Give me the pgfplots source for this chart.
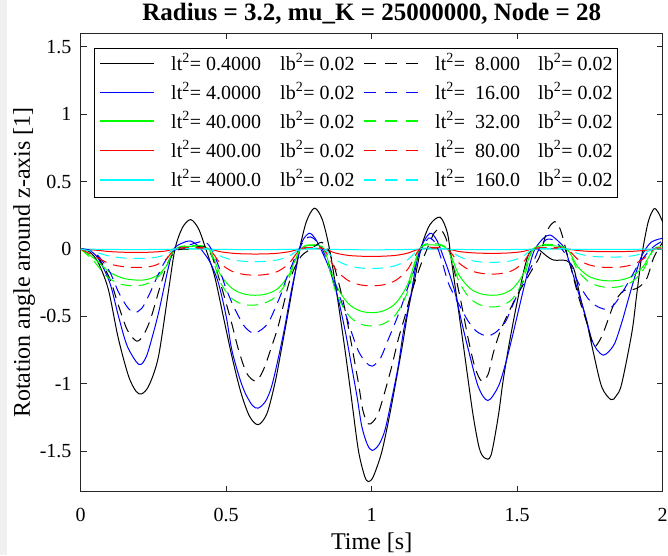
\documentclass[border=0pt]{standalone}
\usepackage{pgfplots}
\pgfplotsset{compat=1.18}
\usepackage{fontspec}
\setmainfont{Liberation Serif}
\definecolor{matK}{rgb}{0,0,0}
\definecolor{matB}{rgb}{0,0,1}
\definecolor{matG}{rgb}{0,1,0}
\definecolor{matR}{rgb}{1,0,0}
\definecolor{matC}{rgb}{0,1,1}
\pgfplotsset{
  cv/.style={line width=1pt, smooth, tension=0.5},
  dsh/.style={dash pattern=on 11pt off 7pt},
}
\tikzset{legdsh/.style={dash pattern=on 12pt off 9pt}}
% legend row: #1 line y (pt), #2 colour, #3 left lt value, #4 right lt value, #5 line width
\newcommand{\legrow}[5]{%
  \draw[#2, line width=#5] (19.5pt,#1pt) -- (73.5pt,#1pt);
  \node[anchor=base west, inner sep=0pt, font=\fontsize{20}{24}\selectfont] at ([yshift=-7pt]90.3pt,#1pt) {lt\textsuperscript{2}= #3};
  \node[anchor=base west, inner sep=0pt, font=\fontsize{20}{24}\selectfont] at ([yshift=-7pt]199.3pt,#1pt) {lb\textsuperscript{2}= 0.02};
  \draw[#2, line width=#5, legdsh] (283.3pt,#1pt) -- (337.3pt,#1pt);
  \node[anchor=base west, inner sep=0pt, font=\fontsize{20}{24}\selectfont] at ([yshift=-7pt]354.3pt,#1pt) {lt\textsuperscript{2}=\ \ #4};
  \node[anchor=base west, inner sep=0pt, font=\fontsize{20}{24}\selectfont] at ([yshift=-7pt]457.3pt,#1pt) {lb\textsuperscript{2}= 0.02};
}
\begin{document}
\begin{tikzpicture}
\useasboundingbox (-80.7pt,-63.3pt) rectangle (587.3pt,491.7pt);
\fill[gray!12] (-80.7pt,-63.3pt) rectangle (-73.7pt,491.7pt);
\begin{axis}[
  at={(0pt,0pt)}, anchor=south west,
  scale only axis, width=582pt, height=458.4pt,
  xmin=0, xmax=2, ymin=-1.8, ymax=1.6,
  xtick={0,0.5,1,1.5,2},
  ytick={-1.5,-1,-0.5,0,0.5,1,1.5},
  tick align=inside, major tick length=6pt,
  axis line style={line width=0.8pt, black!85},
  every tick/.style={line width=0.8pt, black!85},
  /pgf/number format/assume math mode=true,
  ticklabel style={font=\fontsize{20}{24}\selectfont},
  xticklabel style={anchor=base, inner sep=0pt, yshift=-30pt},
  yticklabel style={anchor=east, inner sep=0pt, xshift=-9pt},
  xlabel={Time [s]},
  ylabel={Rotation angle around z-axis [1]},
  xlabel style={at={(axis description cs:0.5,0)}, anchor=base, inner sep=0pt, yshift=-57.6pt, font=\fontsize{24}{28}\selectfont},
  ylabel style={at={(axis description cs:0,0.5)}, anchor=base, inner sep=0pt, yshift=50.7pt, font=\fontsize{24}{28}\selectfont},
  title={Radius = 3.2, mu\_K = 25000000, Node = 28},
  title style={at={(axis description cs:0.5,1)}, anchor=base, inner sep=0pt, yshift=7pt, font=\bfseries\fontsize{25}{29}\selectfont},
]
% lt^2 = 0.4 (black solid)
\addplot[cv, matK] coordinates {
(0,0) (0.03,-0.02) (0.06,-0.1) (0.095,-0.3) (0.129,-0.66) (0.164,-0.94) (0.19,-1.055) (0.21,-1.074) (0.235,-1.01) (0.267,-0.8) (0.301,-0.32) (0.324,0) (0.35,0.16) (0.378,0.218) (0.405,0.15) (0.43,0.0) (0.46,-0.2) (0.49,-0.5) (0.52,-0.8) (0.55,-1.06) (0.58,-1.24) (0.61,-1.303) (0.64,-1.22) (0.668,-0.99) (0.69,-0.74) (0.713,-0.47) (0.735,-0.2) (0.75,-0.02) (0.775,0.2) (0.803,0.303) (0.83,0.22) (0.855,0.0) (0.88,-0.33) (0.908,-0.745) (0.93,-1.1) (0.954,-1.49) (0.975,-1.68) (0.988,-1.725) (1.005,-1.69) (1.034,-1.51) (1.06,-1.25) (1.08,-1.02) (1.105,-0.72) (1.126,-0.447) (1.15,-0.2) (1.172,0.025) (1.2,0.18) (1.235,0.236) (1.26,0.12) (1.275,-0.1) (1.309,-0.62) (1.33,-0.95) (1.349,-1.24) (1.37,-1.48) (1.389,-1.551) (1.41,-1.53) (1.435,-1.24) (1.45,-1.0) (1.469,-0.745) (1.49,-0.5) (1.504,-0.35) (1.527,-0.124) (1.544,-0.02) (1.57,0.0) (1.6,-0.05) (1.625,-0.082) (1.67,-0.087) (1.695,-0.15) (1.716,-0.35) (1.74,-0.55) (1.76,-0.75) (1.79,-1.02) (1.822,-1.117) (1.84,-1.09) (1.859,-1.0) (1.894,-0.62) (1.91,-0.35) (1.928,-0.05) (1.95,0.2) (1.97,0.298) (1.985,0.27) (2.0,0.2)
};
% lt^2 = 4 (blue solid)
\addplot[cv, matB] coordinates {
(0,0) (0.03,-0.01) (0.06,-0.07) (0.1,-0.25) (0.13,-0.5) (0.16,-0.72) (0.2,-0.856) (0.225,-0.8) (0.25,-0.62) (0.27,-0.45) (0.3,-0.15) (0.32,0) (0.35,0.045) (0.376,0.06) (0.4,0.03) (0.42,-0.02) (0.445,-0.1) (0.473,-0.25) (0.5,-0.5) (0.519,-0.745) (0.545,-0.95) (0.565,-1.067) (0.59,-1.16) (0.61,-1.18) (0.635,-1.13) (0.656,-1.02) (0.68,-0.8) (0.702,-0.57) (0.722,-0.33) (0.742,-0.124) (0.76,0.05) (0.785,0.117) (0.805,0.08) (0.825,0) (0.855,-0.15) (0.885,-0.372) (0.91,-0.62) (0.931,-0.87) (0.95,-1.1) (0.966,-1.316) (0.985,-1.45) (1.002,-1.494) (1.025,-1.45) (1.046,-1.34) (1.07,-1.1) (1.091,-0.87) (1.11,-0.6) (1.132,-0.372) (1.15,-0.15) (1.166,0) (1.2,0.117) (1.225,0.06) (1.245,-0.05) (1.265,-0.17) (1.286,-0.32) (1.31,-0.55) (1.332,-0.745) (1.366,-1.02) (1.399,-1.124) (1.435,-1.02) (1.46,-0.85) (1.481,-0.67) (1.505,-0.45) (1.527,-0.25) (1.545,-0.1) (1.561,0) (1.59,0.08) (1.613,0.104) (1.64,0.06) (1.664,0) (1.685,-0.14) (1.71,-0.32) (1.735,-0.5) (1.756,-0.67) (1.775,-0.75) (1.796,-0.787) (1.815,-0.76) (1.836,-0.695) (1.86,-0.54) (1.882,-0.372) (1.905,-0.2) (1.928,-0.05) (1.96,0.05) (2.0,0.08)
};
% lt^2 = 40 (green solid)
\addplot[cv, matG] coordinates {
(0,0) (0.05,-0.076) (0.10,-0.173) (0.15,-0.219) (0.20,-0.231) (0.231,-0.224) (0.262,-0.196) (0.294,-0.127) (0.325,0) (0.38,0.02) (0.44,0) (0.48,-0.189) (0.52,-0.292) (0.56,-0.333) (0.60,-0.343) (0.639,-0.333) (0.678,-0.292) (0.716,-0.189) (0.755,0) (0.795,0.025) (0.835,0) (0.876,-0.260) (0.918,-0.401) (0.959,-0.458) (1.0,-0.472) (1.041,-0.458) (1.083,-0.401) (1.124,-0.260) (1.165,0) (1.21,0.03) (1.26,0) (1.299,-0.189) (1.338,-0.292) (1.376,-0.333) (1.415,-0.343) (1.45,-0.333) (1.485,-0.292) (1.52,-0.189) (1.555,0) (1.61,0.025) (1.67,0) (1.7075,-0.130) (1.745,-0.201) (1.7825,-0.229) (1.82,-0.236) (1.8575,-0.229) (1.895,-0.201) (1.9325,-0.130) (1.97,0) (2.0,0.015)
};
% lt^2 = 400 (red solid)
\addplot[cv, matR] coordinates {
(0,0) (0.05,-0.008) (0.10,-0.019) (0.15,-0.024) (0.20,-0.025) (0.231,-0.024) (0.262,-0.021) (0.294,-0.014) (0.325,0) (0.38,0.003) (0.44,0) (0.48,-0.020) (0.52,-0.031) (0.56,-0.036) (0.60,-0.037) (0.639,-0.036) (0.678,-0.031) (0.716,-0.020) (0.755,0) (0.795,0.003) (0.835,0) (0.876,-0.030) (0.918,-0.047) (0.959,-0.053) (1.0,-0.055) (1.041,-0.053) (1.083,-0.047) (1.124,-0.030) (1.165,0) (1.21,0.003) (1.26,0) (1.299,-0.018) (1.338,-0.027) (1.376,-0.031) (1.415,-0.032) (1.45,-0.031) (1.485,-0.027) (1.52,-0.018) (1.555,0) (1.61,0.003) (1.67,0) (1.7075,-0.011) (1.745,-0.017) (1.7825,-0.019) (1.82,-0.020) (1.8575,-0.019) (1.895,-0.017) (1.9325,-0.011) (1.97,0) (2.0,0.002)
};
% lt^2 = 4000 (cyan solid)
\addplot[cv, matC] coordinates {
(0,0) (0.1,-0.003) (0.2,-0.004) (0.3,-0.002) (0.38,0) (0.5,-0.003) (0.6,-0.005) (0.7,-0.003) (0.8,0) (0.9,-0.004) (1.0,-0.006) (1.1,-0.004) (1.2,0) (1.3,-0.003) (1.4,-0.005) (1.5,-0.003) (1.6,0) (1.7,-0.002) (1.8,-0.003) (1.9,-0.002) (2.0,0)
};
% lt^2 = 8 (black dashed)
\addplot[cv, dsh, matK] coordinates {
(0,0) (0.03,-0.01) (0.06,-0.06) (0.1,-0.22) (0.13,-0.42) (0.16,-0.6) (0.192,-0.683) (0.215,-0.64) (0.24,-0.52) (0.27,-0.3) (0.3,-0.1) (0.33,-0.01) (0.37,0.0) (0.4,0.015) (0.425,0.02) (0.45,-0.05) (0.47,-0.18) (0.496,-0.372) (0.52,-0.56) (0.542,-0.745) (0.57,-0.92) (0.599,-0.98) (0.615,-0.95) (0.633,-0.87) (0.655,-0.73) (0.679,-0.57) (0.713,-0.273) (0.735,-0.14) (0.759,-0.05) (0.79,0.0) (0.81,0.03) (0.828,0.05) (0.85,0.0) (0.87,-0.12) (0.89,-0.28) (0.908,-0.447) (0.93,-0.7) (0.954,-0.99) (0.97,-1.2) (0.988,-1.296) (1.005,-1.28) (1.023,-1.216) (1.045,-1.06) (1.069,-0.87) (1.09,-0.68) (1.114,-0.5) (1.13,-0.37) (1.149,-0.24) (1.17,-0.11) (1.195,0.025) (1.215,0.12) (1.235,0.149) (1.255,0.08) (1.275,-0.075) (1.298,-0.3) (1.315,-0.48) (1.332,-0.67) (1.355,-0.88) (1.378,-0.98) (1.4,-0.93) (1.418,-0.77) (1.44,-0.62) (1.464,-0.5) (1.498,-0.35) (1.533,-0.22) (1.56,-0.12) (1.578,-0.05) (1.601,0.124) (1.62,0.19) (1.636,0.2) (1.652,0.12) (1.67,-0.025) (1.686,-0.15) (1.704,-0.3) (1.72,-0.42) (1.739,-0.546) (1.762,-0.72) (1.78,-0.69) (1.796,-0.62) (1.813,-0.52) (1.83,-0.42) (1.848,-0.35) (1.865,-0.31) (1.88,-0.30) (1.899,-0.30) (1.92,-0.28) (1.945,-0.22) (1.968,-0.07) (1.985,0.0) (2.0,0.05)
};
% lt^2 = 16 (blue dashed)
\addplot[cv, dsh, matB] coordinates {
(0,0) (0.03,-0.01) (0.06,-0.05) (0.1,-0.17) (0.13,-0.32) (0.16,-0.43) (0.184,-0.472) (0.21,-0.44) (0.235,-0.34) (0.26,-0.22) (0.285,-0.11) (0.31,-0.03) (0.34,0.01) (0.38,0.035) (0.42,0.057) (0.44,0.03) (0.46,-0.05) (0.476,-0.14) (0.496,-0.273) (0.52,-0.4) (0.542,-0.497) (0.565,-0.58) (0.593,-0.625) (0.62,-0.6) (0.645,-0.546) (0.668,-0.44) (0.691,-0.32) (0.71,-0.2) (0.725,-0.124) (0.745,-0.02) (0.77,0.07) (0.79,0.09) (0.81,0.06) (0.83,0.0) (0.855,-0.13) (0.885,-0.32) (0.91,-0.48) (0.931,-0.62) (0.955,-0.76) (0.98,-0.84) (1.002,-0.869) (1.03,-0.81) (1.057,-0.67) (1.08,-0.55) (1.103,-0.42) (1.125,-0.28) (1.143,-0.174) (1.165,-0.03) (1.195,0.08) (1.22,0.04) (1.24,-0.08) (1.263,-0.25) (1.285,-0.35) (1.309,-0.447) (1.33,-0.53) (1.36,-0.61) (1.395,-0.645) (1.425,-0.62) (1.458,-0.546) (1.48,-0.44) (1.504,-0.32) (1.53,-0.2) (1.55,-0.124) (1.575,0.0) (1.6,0.07) (1.63,0.06) (1.66,-0.02) (1.68,-0.1) (1.699,-0.2) (1.72,-0.29) (1.745,-0.372) (1.77,-0.42) (1.802,-0.447) (1.825,-0.43) (1.847,-0.372) (1.87,-0.29) (1.894,-0.2) (1.915,-0.12) (1.939,-0.05) (1.97,0.02) (2.0,0.06)
};
% lt^2 = 32 (green dashed)
\addplot[cv, dsh, matG] coordinates {
(0,0) (0.045,-0.09) (0.09,-0.205) (0.135,-0.259) (0.18,-0.273) (0.216,-0.265) (0.252,-0.232) (0.289,-0.150) (0.325,0) (0.38,0.025) (0.44,0) (0.476,-0.229) (0.513,-0.354) (0.549,-0.404) (0.585,-0.417) (0.6275,-0.404) (0.67,-0.354) (0.7125,-0.229) (0.755,0) (0.795,0.03) (0.835,0) (0.876,-0.314) (0.918,-0.485) (0.959,-0.554) (1.0,-0.571) (1.041,-0.554) (1.083,-0.485) (1.124,-0.314) (1.165,0) (1.21,0.04) (1.26,0) (1.299,-0.237) (1.338,-0.366) (1.376,-0.417) (1.415,-0.43) (1.45,-0.417) (1.485,-0.366) (1.52,-0.237) (1.555,0) (1.61,0.035) (1.67,0) (1.7075,-0.157) (1.745,-0.242) (1.7825,-0.276) (1.82,-0.285) (1.8575,-0.276) (1.895,-0.242) (1.9325,-0.157) (1.97,0) (2.0,0.02)
};
% lt^2 = 80 (red dashed)
\addplot[cv, dsh, matR] coordinates {
(0,0) (0.05,-0.055) (0.10,-0.11) (0.15,-0.132) (0.20,-0.137) (0.231,-0.133) (0.262,-0.116) (0.294,-0.075) (0.325,0) (0.38,0.01) (0.44,0) (0.48,-0.107) (0.52,-0.165) (0.56,-0.188) (0.60,-0.194) (0.639,-0.188) (0.678,-0.165) (0.716,-0.107) (0.755,0) (0.795,0.01) (0.835,0) (0.876,-0.150) (0.918,-0.232) (0.959,-0.265) (1.0,-0.273) (1.041,-0.265) (1.083,-0.232) (1.124,-0.150) (1.165,0) (1.21,0.012) (1.26,0) (1.299,-0.102) (1.338,-0.158) (1.376,-0.180) (1.415,-0.186) (1.45,-0.180) (1.485,-0.158) (1.52,-0.102) (1.555,0) (1.61,0.01) (1.67,0) (1.7075,-0.075) (1.745,-0.116) (1.7825,-0.133) (1.82,-0.137) (1.8575,-0.133) (1.895,-0.116) (1.9325,-0.075) (1.97,0) (2.0,0.008)
};
% lt^2 = 160 (cyan dashed)
\addplot[cv, dsh, matC] coordinates {
(0,0) (0.05,-0.023) (0.10,-0.053) (0.15,-0.067) (0.20,-0.07) (0.231,-0.068) (0.262,-0.060) (0.294,-0.039) (0.325,0) (0.38,0.005) (0.44,0) (0.48,-0.052) (0.52,-0.080) (0.56,-0.091) (0.60,-0.094) (0.639,-0.091) (0.678,-0.080) (0.716,-0.052) (0.755,0) (0.795,0.005) (0.835,0) (0.876,-0.079) (0.918,-0.122) (0.959,-0.140) (1.0,-0.144) (1.041,-0.140) (1.083,-0.122) (1.124,-0.079) (1.165,0) (1.21,0.005) (1.26,0) (1.299,-0.054) (1.338,-0.084) (1.376,-0.096) (1.415,-0.099) (1.45,-0.096) (1.485,-0.084) (1.52,-0.054) (1.555,0) (1.61,0.005) (1.67,0) (1.7075,-0.033) (1.745,-0.051) (1.7825,-0.058) (1.82,-0.060) (1.8575,-0.058) (1.895,-0.051) (1.9325,-0.033) (1.97,0) (2.0,0.003)
};
\end{axis}
% legend (drawn on top of the axis, in pt relative to the axis' lower-left corner)
\draw[black, line width=0.6pt, fill=white] (13.7pt,294.7pt) rectangle (536.1pt,443.7pt);
\legrow{428.2}{matK}{0.4000}{8.000}{1.2pt}
\legrow{399.2}{matB}{4.0000}{16.00}{1.3pt}
\legrow{370.2}{matG}{40.000}{32.00}{2pt}
\legrow{341.2}{matR}{400.00}{80.00}{1.8pt}
\legrow{312.2}{matC}{4000.0}{160.0}{2pt}
\end{tikzpicture}
\end{document}
